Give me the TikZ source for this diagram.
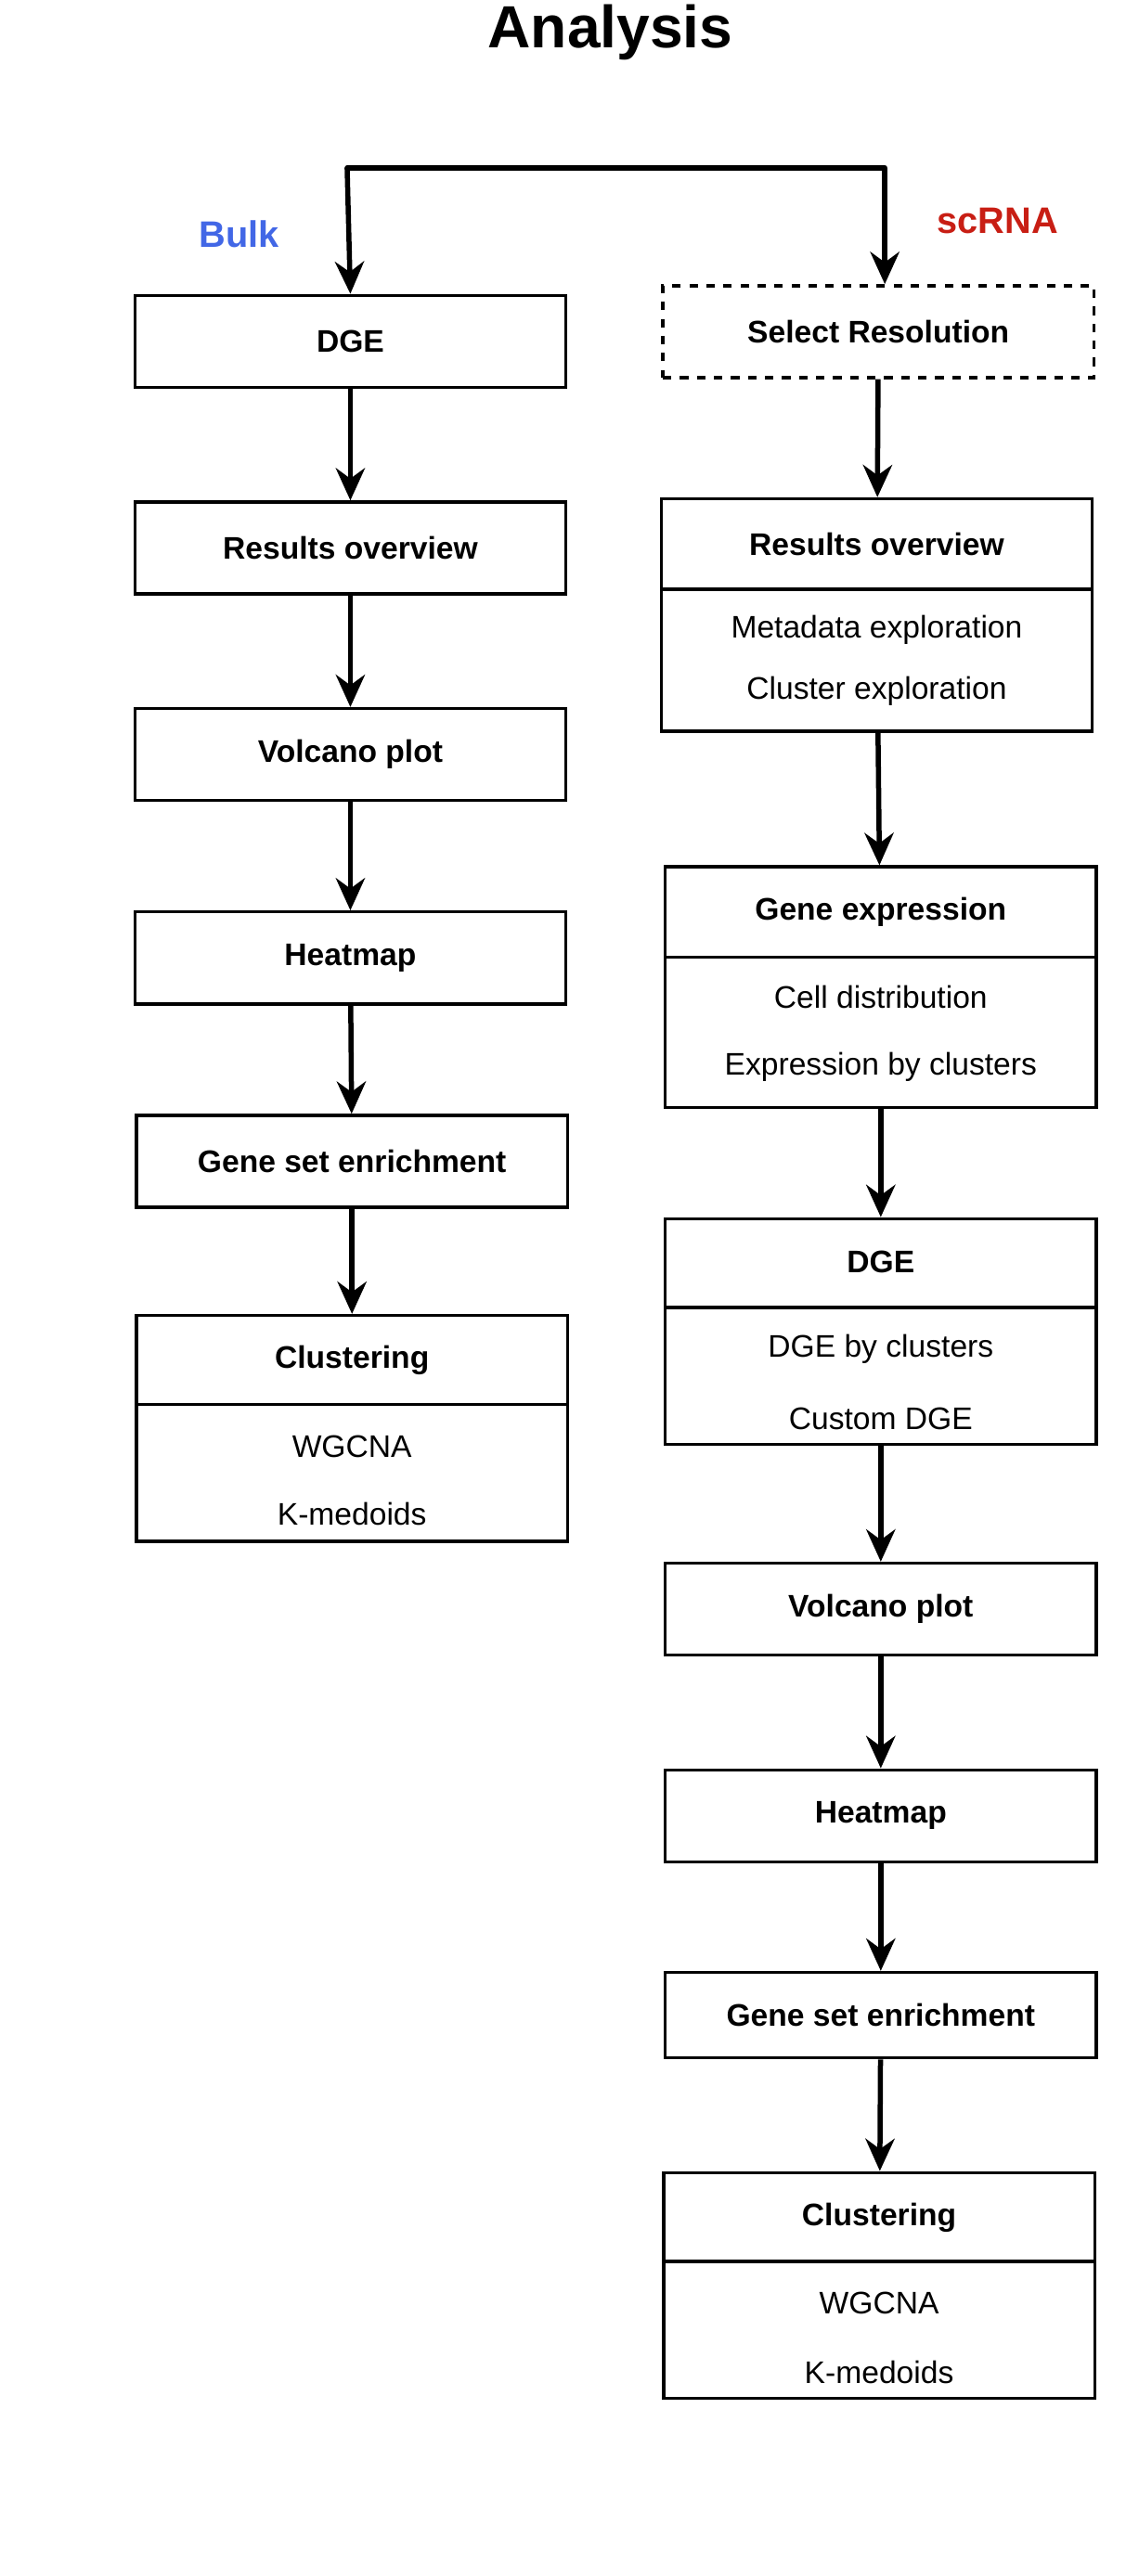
\documentclass[tikz,border=0pt]{standalone}
\usepackage{fontspec}
\setmainfont{Liberation Sans}
\usetikzlibrary{arrows.meta}
\usetikzlibrary{positioning}

\definecolor{bulkblue}{RGB}{66,103,230}
\definecolor{scred}{RGB}{200,30,20}

\tikzset{
  box/.style={draw, line width=1.1pt, minimum width=5.34cm, inner sep=0pt},
  stage/.style={box, minimum height=1.14cm, font=\bfseries\fontsize{11}{13}\selectfont},
  head/.style={font=\bfseries\fontsize{11}{13}\selectfont},
  item/.style={font=\fontsize{11}{13}\selectfont},
  flow/.style={line width=1.8pt, -{Stealth[length=4mm, width=3.6mm]}}
}

\begin{document}
\begin{tikzpicture}[x=0.02cm, y=-0.02cm]
    \useasboundingbox (0,0) rectangle (697,1596);
    % title and branch labels
    \node[font=\bfseries\fontsize{21}{24}\selectfont] (title) at (378,20) {Analysis};
    \node[font=\bfseries\fontsize{13}{15}\selectfont, text=bulkblue] (bulk) at (148,145) {Bulk};
    \node[font=\bfseries\fontsize{13}{15}\selectfont, text=scred] (scrna) at (618,137) {scRNA};

    % bulk column
    \node[stage] (bdge) at (217,211.5) {DGE};
    \node[stage] (bres) at (217,339.5) {Results overview};
    \node[stage] (bvol) at (217,467.5) {Volcano plot};
    \node[stage] (bheat) at (217,593.5) {Heatmap};
    \node[stage] (bgse) at (218,719.5) {Gene set enrichment};
    \node[box, minimum height=2.8cm] (bclu) at (218,885) {};
    \draw[line width=1.1pt] (84,870) -- (352,870);
    \node[head] (bcluh) at (218,842.5) {Clustering};
    \node[item] (bclua) at (218,896) {WGCNA};
    \node[item] (bclub) at (218,938) {K-medoids};

    % scRNA column
    \node[stage, dashed] (ssel) at (544,205.5) {Select Resolution};
    \node[box, minimum height=2.88cm] (sres) at (543,381) {};
    \draw[line width=1.1pt] (409,365) -- (677,365);
    \node[head] (sresh) at (543,337) {Results overview};
    \node[item] (sresa) at (543,390) {Metadata exploration};
    \node[item] (sresb) at (543,428) {Cluster exploration};

    \node[box, minimum height=2.98cm] (sgex) at (545.5,611.5) {};
    \draw[line width=1.1pt] (412,593) -- (679,593);
    \node[head] (sgexh) at (545.5,565) {Gene expression};
    \node[item] (sgexa) at (545.5,618) {Cell distribution};
    \node[item] (sgexb) at (545.5,661) {Expression by clusters};

    \node[box, minimum height=2.8cm] (sdge) at (545.5,825) {};
    \draw[line width=1.1pt] (412,810) -- (679,810);
    \node[head] (sdgeh) at (545.5,782) {DGE};
    \node[item] (sdgea) at (545.5,836) {DGE by clusters};
    \node[item] (sdgeb) at (545.5,879) {Custom DGE};

    \node[stage] (svol) at (545.5,997) {Volcano plot};
    \node[stage] (sheat) at (545.5,1125) {Heatmap};
    \node[stage, minimum height=1.06cm] (sgse) at (545.5,1248.5) {Gene set enrichment};
    \node[box, minimum height=2.8cm] (sclu) at (544.5,1416) {};
    \draw[line width=1.1pt] (410,1401) -- (679,1401);
    \node[head] (scluh) at (544.5,1374) {Clustering};
    \node[item] (sclua) at (544.5,1427) {WGCNA};
    \node[item] (sclub) at (544.5,1470) {K-medoids};

    % split into the two branches
    \coordinate (tl) at (215,104);
    \coordinate (tr) at (548,104);
    \draw[line width=1.8pt, line cap=round] (tl) -- (tr);
    \draw[flow] (tl) -- (bdge.north);
    \draw[flow] (tr) -- (ssel.north -| tr);

    % arrows
    \draw[flow] (bdge) -- (bres);
    \draw[flow] (bres) -- (bvol);
    \draw[flow] (bvol) -- (bheat);
    \draw[flow] (bheat) -- (bgse);
    \draw[flow] (bgse) -- (bclu);
    \draw[flow] (ssel) -- (sres);
    \draw[flow] (sres) -- (sgex);
    \draw[flow] (sgex) -- (sdge);
    \draw[flow] (sdge) -- (svol);
    \draw[flow] (svol) -- (sheat);
    \draw[flow] (sheat) -- (sgse);
    \draw[flow] (sgse) -- (sclu);
\end{tikzpicture}
\end{document}
